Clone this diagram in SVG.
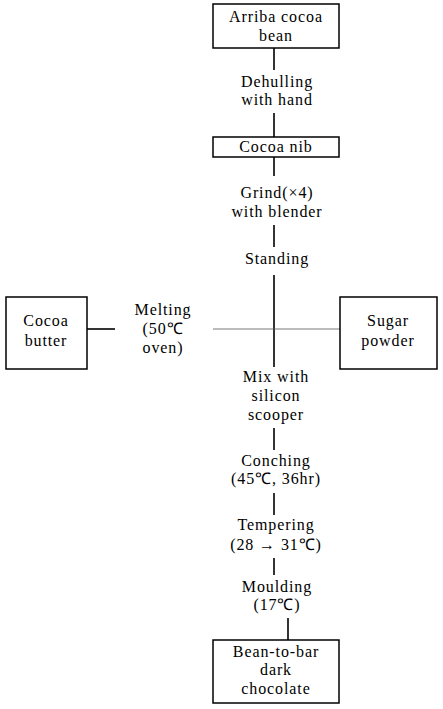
<svg xmlns="http://www.w3.org/2000/svg" width="443" height="709" viewBox="0 0 443 709">
<style>
.box{fill:#fff;stroke:#000;stroke-width:1.5}
.t{font-family:"Liberation Serif","Times New Roman",serif;font-size:16px;letter-spacing:0.9px;text-anchor:middle;fill:#000}
.ln{stroke:#000;stroke-width:1.6;fill:none}
.thin{stroke:#555;stroke-width:0.8;fill:none}
</style>
<rect width="443" height="709" fill="#fff"/>
<g id="connectors">
<line class="ln" x1="274" y1="48" x2="274" y2="70"/>
<line class="ln" x1="274" y1="113" x2="274" y2="137"/>
<line class="ln" x1="274" y1="157" x2="274" y2="176"/>
<line class="ln" x1="274" y1="225" x2="274" y2="247"/>
<line class="ln" x1="274" y1="275" x2="274" y2="367"/>
<line class="ln" x1="87" y1="329" x2="115" y2="329"/>
<line class="thin" x1="213" y1="329" x2="340" y2="329"/>
<line class="ln" x1="274" y1="428" x2="274" y2="450"/>
<line class="ln" x1="274" y1="493" x2="274" y2="515"/>
<line class="ln" x1="274" y1="558" x2="274" y2="575"/>
<line class="ln" x1="288" y1="618" x2="288" y2="640"/>
</g>
<g id="n1"><rect class="box" x="213" y="4" width="126" height="44"/>
<text class="t" x="276" y="22">Arriba cocoa</text><text class="t" x="276" y="41">bean</text></g>
<g id="l1"><text class="t" x="277" y="87">Dehulling</text><text class="t" x="277" y="105">with hand</text></g>
<g id="n2"><rect class="box" x="213" y="137" width="126" height="20"/>
<text class="t" x="276" y="152">Cocoa nib</text></g>
<g id="l2"><text class="t" x="277" y="198">Grind(×4)</text><text class="t" x="277" y="217">with blender</text></g>
<g id="l3"><text class="t" x="277" y="264">Standing</text></g>
<g id="n3"><rect class="box" x="6" y="297" width="81" height="72"/>
<text class="t" x="46" y="326">Cocoa</text><text class="t" x="46" y="346">butter</text></g>
<g id="l4"><text class="t" x="163" y="315">Melting</text><text class="t" x="163" y="334">(50℃</text><text class="t" x="163" y="353">oven)</text></g>
<g id="n4"><rect class="box" x="340" y="297" width="97" height="72"/>
<text class="t" x="388" y="326">Sugar</text><text class="t" x="388" y="346">powder</text></g>
<g id="l5"><text class="t" x="276" y="382">Mix with</text><text class="t" x="276" y="401">silicon</text><text class="t" x="276" y="420">scooper</text></g>
<g id="l6"><text class="t" x="276" y="466">Conching</text><text class="t" x="276" y="484">(45℃, 36hr)</text></g>
<g id="l7"><text class="t" x="276" y="530">Tempering</text><text class="t" x="276" y="550">(28 → 31℃)</text></g>
<g id="l8"><text class="t" x="277" y="592">Moulding</text><text class="t" x="277" y="610">(17℃)</text></g>
<g id="n5"><rect class="box" x="213" y="640" width="126" height="63"/>
<text class="t" x="276" y="657">Bean-to-bar</text><text class="t" x="276" y="675">dark</text><text class="t" x="276" y="694">chocolate</text></g>
</svg>
